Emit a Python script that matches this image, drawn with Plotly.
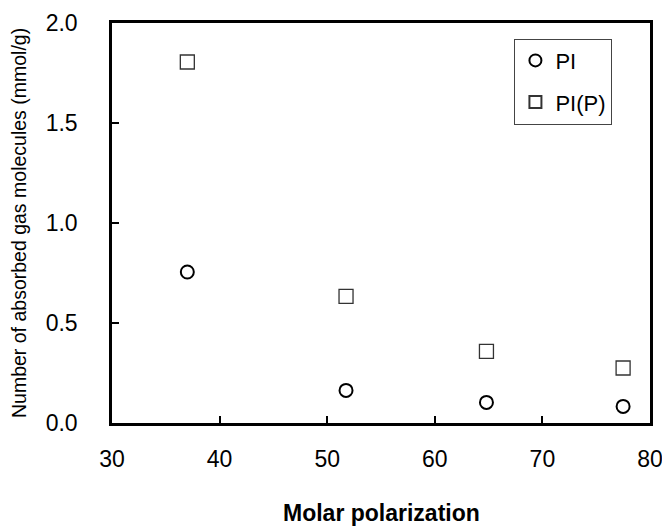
import plotly.graph_objects as go

molar_pol = [37.0, 51.75, 64.8, 77.5]
pi_vals = [0.755, 0.163, 0.103, 0.083]
pip_vals = [1.805, 0.633, 0.358, 0.275]
series_names = ["PI", "PI(P)"]
x_ticks = [30, 40, 50, 60, 70, 80]
y_ticks = [0.0, 0.5, 1.0, 1.5, 2.0]
x_title = "Molar polarization"
y_title = "Number of absorbed gas molecules (mmol/g)"

FONT = "Liberation Sans, Arial, sans-serif"

fig = go.Figure()
fig.add_trace(go.Scatter(
    x=molar_pol, y=pi_vals, mode="markers", name=series_names[0], legendgroup="a",
    marker=dict(symbol="circle-open", size=13, color="black", line=dict(width=2, color="black")),
))
fig.add_trace(go.Scatter(
    x=molar_pol, y=pip_vals, mode="markers", name=series_names[1], legendgroup="b",
    marker=dict(symbol="square-open", size=14, color="#333333", line=dict(width=1.3, color="#333333")),
))

fig.update_layout(
    width=662, height=526,
    margin=dict(l=112, r=12, t=23, b=103),
    paper_bgcolor="white", plot_bgcolor="white",
    font=dict(family=FONT, size=23, color="black"),
    legend=dict(
        x=0.748, y=0.961, xanchor="left", yanchor="top",
        bordercolor="#444444", borderwidth=1, bgcolor="white",
        font=dict(size=22), itemsizing="constant", tracegroupgap=10,
    ),
    xaxis=dict(
        range=[30, 80], tickvals=x_ticks, ticktext=[str(v) for v in x_ticks],
        showgrid=False, zeroline=False, showline=True, linecolor="black", linewidth=2.5,
        mirror=True, ticks="inside", ticklen=7, tickwidth=1.5, tickcolor="black",
        ticklabelstandoff=14, automargin=False, ticklabeloverflow="allow",
    ),
    yaxis=dict(
        range=[0, 2], tickvals=y_ticks, ticktext=[f"{v:.1f}" for v in y_ticks],
        showgrid=False, zeroline=False, showline=True, linecolor="black", linewidth=2.5,
        mirror=True, ticks="inside", ticklen=7, tickwidth=1.5, tickcolor="black",
        ticklabelstandoff=27, automargin=False, ticklabeloverflow="allow",
    ),
    annotations=[
        dict(text="<b>" + x_title + "</b>", xref="paper", yref="paper", x=0.5, y=0,
             yshift=-90, xanchor="center", yanchor="middle", showarrow=False,
             font=dict(size=23, family=FONT, color="black")),
        dict(text=y_title, xref="paper", yref="paper", x=0, y=0.5, xshift=-93,
             textangle=-90, xanchor="center", yanchor="middle", showarrow=False,
             font=dict(size=19.5, family=FONT, color="black")),
    ],
)

fig.write_html("out.html")
